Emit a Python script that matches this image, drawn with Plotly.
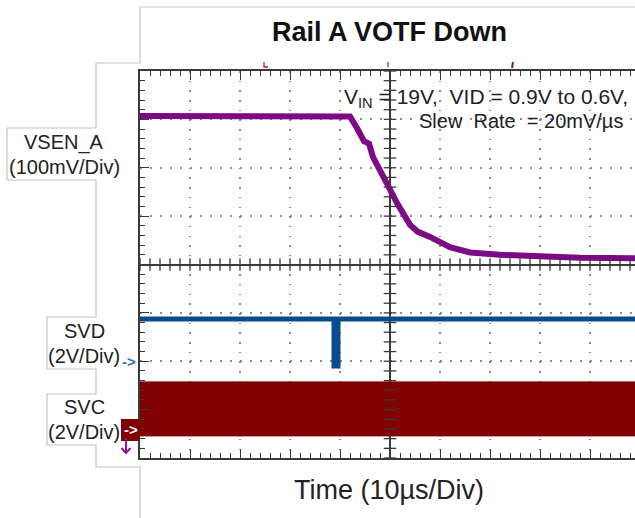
import numpy as np
import plotly.graph_objects as go

W, H = 635, 518

# ---------------- data (time in µs relative to screen centre) ----------------
vsen_t = [-50, -20, -8, -6.5, -5.2, -4.2, -3.4, -1.0, 1.4, 4.0, 5.5, 8.0, 12.0, 16.0, 22.0, 30.0, 38.0, 49.0]
vsen_v = [0.900, 0.900, 0.899, 0.873, 0.848, 0.843, 0.815, 0.768, 0.720, 0.675, 0.661, 0.650, 0.629, 0.618, 0.613, 0.610, 0.607, 0.606]

svd_t = [-50, -11.2, -11.2, -10.4, -10.4, 49]
svd_v = [1.73, 1.73, -0.22, -0.22, 1.73, 1.73]

svc_t = [-50, 49]
svc_high_v = 1.945
svc_low_v = -0.286

# channel scaling (V/div) and ground position (div from centre)
vsen_scale, vsen_offset = 0.1, 0.593
svd_scale, svd_ground = 2.0, -1.99
svc_scale, svc_ground = 2.0, -3.40

title = "Rail A VOTF Down"
cond1 = "V<sub>IN</sub> = 19V,  VID = 0.9V to 0.6V,"
cond2 = "Slew  Rate  = 20mV/µs"
xlabel = "Time (10µs/Div)"
labels = [("VSEN_A", "(100mV/Div)"), ("SVD", "(2V/Div)"), ("SVC", "(2V/Div)")]

FONT = "Liberation Sans, Arial, sans-serif"
PURPLE = "#7D0A85"
BLUE = "#0B4A8C"
RED = "#800000"
DARK = "#3a3a3a"

def px(x):
    return x / W

def py(y):
    return 1 - y / H

vsen_div = [(v - vsen_offset) / vsen_scale for v in vsen_v]
svd_div = [v / svd_scale + svd_ground for v in svd_v]
svc_hi = svc_high_v / svc_scale + svc_ground
svc_lo = svc_low_v / svc_scale + svc_ground

fig = go.Figure()

# SVC clock band
fig.add_trace(go.Scatter(
    x=[svc_t[0], svc_t[1], svc_t[1], svc_t[0], svc_t[0]],
    y=[svc_hi, svc_hi, svc_lo, svc_lo, svc_hi],
    fill="toself", fillcolor=RED, mode="lines",
    line=dict(color=RED, width=1), hoverinfo="skip"))

# SVD
fig.add_trace(go.Scatter(x=svd_t, y=svd_div, mode="lines",
                         line=dict(color=BLUE, width=5), hoverinfo="skip"))

# VSEN
fig.add_trace(go.Scatter(x=vsen_t, y=vsen_div, mode="lines",
                         line=dict(color=PURPLE, width=6), hoverinfo="skip"))

# centre-line graticule ticks
fig.add_trace(go.Scatter(
    x=[0] * 41, y=list(np.round(np.arange(-4, 4.01, 0.2), 3)), mode="markers",
    marker=dict(symbol="line-ew", size=9, line=dict(color=DARK, width=1.3)),
    hoverinfo="skip"))
fig.add_trace(go.Scatter(
    x=list(np.arange(-50, 50, 2)), y=[0] * 50, mode="markers",
    marker=dict(symbol="line-ns", size=9, line=dict(color=DARK, width=1.3)),
    hoverinfo="skip"))

fig.update_xaxes(
    domain=[px(140), 1], range=[-50, 49.0], tick0=0, dtick=10,
    showticklabels=False, ticks="inside", ticklen=9, tickcolor=DARK, tickwidth=1.3,
    showline=True, linecolor=DARK, linewidth=2, mirror="allticks",
    showgrid=True, gridcolor="#8a8a8a", gridwidth=1.5, griddash="1.5px,8.18px",
    zeroline=True, zerolinecolor=DARK, zerolinewidth=1.5,
    minor=dict(ticks="inside", ticklen=5, dtick=2, tick0=0, tickcolor=DARK,
               tickwidth=1.2, showgrid=False),
    fixedrange=True)
fig.update_yaxes(
    domain=[py(458), py(71)], range=[-4, 4], tick0=0, dtick=1,
    showticklabels=False, ticks="inside", ticklen=9, tickcolor=DARK, tickwidth=1.3,
    showline=True, linecolor=DARK, linewidth=2, mirror=False,
    showgrid=True, gridcolor="#8a8a8a", gridwidth=1.5, griddash="1.5px,8.5px",
    zeroline=True, zerolinecolor=DARK, zerolinewidth=1.5,
    minor=dict(ticks="inside", ticklen=5, dtick=0.2, tick0=0, tickcolor=DARK,
               tickwidth=1.2, showgrid=False),
    fixedrange=True)

# outline frame (gray)
segs = [
    [(635, 7), (140, 7), (140, 63), (96, 63), (96, 128)],
    [(96, 128), (7, 128), (7, 180), (96, 180), (96, 317)],
    [(96, 317), (47, 317), (47, 369), (96, 369), (96, 394)],
    [(96, 394), (47, 394), (47, 445), (96, 445), (96, 467), (140, 467), (140, 518)],
]
shapes = []
for s in segs:
    path = "M " + " L ".join(f"{px(x):.5f},{py(y):.5f}" for x, y in s)
    shapes.append(dict(type="path", xref="paper", yref="paper", path=path,
                       line=dict(color="#c4c4c4", width=1.2), layer="below"))

# red SVC ground marker box
shapes.append(dict(type="rect", xref="paper", yref="paper",
                   x0=px(121), x1=px(140), y0=py(441), y1=py(419),
                   fillcolor=RED, line=dict(width=0)))
# purple down arrow (VSEN ground marker, below screen)
shapes.append(dict(type="path", xref="paper", yref="paper",
                   path=f"M {px(126):.5f},{py(438):.5f} L {px(126):.5f},{py(453):.5f} "
                        f"M {px(121.5):.5f},{py(448):.5f} L {px(126):.5f},{py(453):.5f} L {px(130.5):.5f},{py(448):.5f}",
                   line=dict(color="#8a1a9a", width=2)))
# small top-edge markers
shapes.append(dict(type="path", xref="paper", yref="paper",
                   path=f"M {px(264):.5f},{py(62):.5f} L {px(264):.5f},{py(67):.5f} L {px(268):.5f},{py(67):.5f}",
                   line=dict(color="#c0202a", width=1.3)))
shapes.append(dict(type="line", xref="paper", yref="paper",
                   x0=px(388), x1=px(388), y0=py(62), y1=py(67),
                   line=dict(color="#c0202a", width=1.3)))
shapes.append(dict(type="line", xref="paper", yref="paper",
                   x0=px(513), x1=px(512), y0=py(62), y1=py(68),
                   line=dict(color="#8a1a10", width=2)))

annos = []
annos.append(dict(text=f"<b>{title}</b>", x=px(389), y=py(32), xref="paper", yref="paper",
                  showarrow=False, font=dict(family=FONT, size=27, color="#111"),
                  xanchor="center", yanchor="middle"))
annos.append(dict(text=cond1, x=px(630), y=py(98), xref="paper", yref="paper",
                  showarrow=False, font=dict(family=FONT, size=21, color="#222"),
                  xanchor="right", yanchor="middle"))
annos.append(dict(text=cond2, x=px(625), y=py(121), xref="paper", yref="paper",
                  showarrow=False, font=dict(family=FONT, size=20, color="#222"),
                  xanchor="right", yanchor="middle"))
annos.append(dict(text=xlabel, x=px(389), y=py(490), xref="paper", yref="paper",
                  showarrow=False, font=dict(family=FONT, size=27, color="#222"),
                  xanchor="center", yanchor="middle"))

label_pos = [(64, 142, 167), (84, 331, 356), (84, 407, 432)]
for (l1, l2), (cx, y1, y2) in zip(labels, label_pos):
    annos.append(dict(text=l1, x=px(cx), y=py(y1), xref="paper", yref="paper",
                      showarrow=False, font=dict(family=FONT, size=20, color="#222"),
                      xanchor="center", yanchor="middle"))
    annos.append(dict(text=l2, x=px(cx), y=py(y2), xref="paper", yref="paper",
                      showarrow=False, font=dict(family=FONT, size=20, color="#222"),
                      xanchor="center", yanchor="middle"))

annos.append(dict(text="<b>-></b>", x=px(129), y=py(361), xref="paper", yref="paper",
                  showarrow=False, font=dict(family=FONT, size=15, color="#2f6db5"),
                  xanchor="center", yanchor="middle"))
annos.append(dict(text="<b>-></b>", x=px(131), y=py(429), xref="paper", yref="paper",
                  showarrow=False, font=dict(family=FONT, size=15, color="white"),
                  xanchor="center", yanchor="middle"))

fig.update_layout(width=W, height=H, margin=dict(l=0, r=0, t=0, b=0),
                  paper_bgcolor="white", plot_bgcolor="white", showlegend=False,
                  shapes=shapes, annotations=annos)

fig.write_html("out.html", config={"displayModeBar": False},
               post_script="document.body.style.margin='0';document.body.style.overflow='hidden';")
